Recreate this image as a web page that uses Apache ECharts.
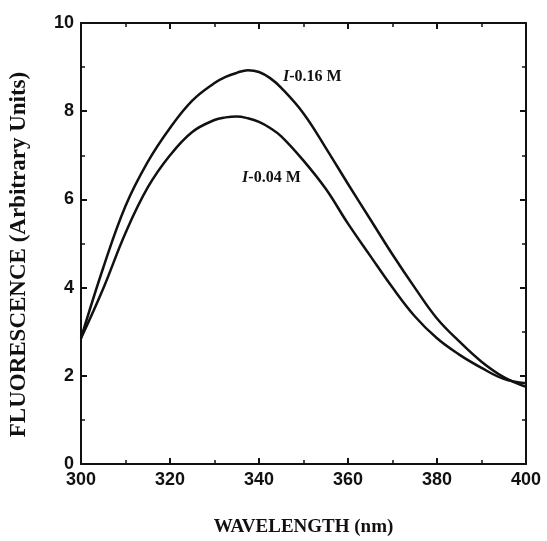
<!DOCTYPE html>
<html>
<head>
<meta charset="utf-8">
<script src="https://cdn.jsdelivr.net/npm/echarts@6/dist/echarts.min.js"></script>
<style>
  html, body { margin: 0; padding: 0; background: #fff; }
  #main { width: 547px; height: 541px; }
</style>
</head>
<body>
<div id="main"></div>
<script>
// wavelengths (nm) and fluorescence
var wavelengths = [300, 305, 310, 315, 320, 325, 330, 332.5, 335, 337.5, 340, 342.5, 345, 350, 355, 360, 365, 370, 375, 380, 385, 390, 395, 400];
var highIonic = [2.85, 4.45, 5.85, 6.85, 7.62, 8.24, 8.64, 8.78, 8.87, 8.93, 8.89, 8.75, 8.53, 7.95, 7.17, 6.35, 5.55, 4.75, 4.0, 3.3, 2.78, 2.32, 1.97, 1.75];
var lowIonic  = [2.85, 3.98, 5.24, 6.27, 7.0, 7.53, 7.8, 7.86, 7.88, 7.84, 7.76, 7.62, 7.43, 6.88, 6.24, 5.45, 4.72, 4.0, 3.35, 2.85, 2.48, 2.18, 1.93, 1.83];
var xTicks = [300, 320, 340, 360, 380, 400];
var yTicks = [0, 2, 4, 6, 8, 10];
var labelHigh = '{i|I}-0.16 M';
var labelLow = '{i|I}-0.04 M';

function pairs(xs, ys) {
    var out = [];
    for (var i = 0; i < xs.length; i++) out.push([xs[i], ys[i]]);
    return out;
}

var tickFont = { fontFamily: 'Liberation Sans', fontWeight: 'bold', fontSize: 18, color: '#111' };
var lineStyle = { color: '#111', width: 2 };
var titleFont = { fontFamily: 'Liberation Serif', fontWeight: 'bold', color: '#111' };

function frameAxis(pos, min, max, interval, showLabel) {
    return {
        type: 'value',
        position: pos,
        min: min,
        max: max,
        interval: interval,
        axisLine: { show: true, onZero: false, lineStyle: lineStyle },
        axisTick: { show: true, inside: true, length: 6, lineStyle: lineStyle },
        minorTick: { show: true, splitNumber: 2, length: 4, lineStyle: { color: '#111', width: 1.5 } },
        splitLine: { show: false },
        axisLabel: Object.assign({ show: showLabel, margin: 7 }, tickFont)
    };
}

var xBottom = frameAxis('bottom', xTicks[0], xTicks[xTicks.length - 1], 20, true);
xBottom.name = 'WAVELENGTH (nm)';
xBottom.nameLocation = 'middle';
xBottom.nameGap = 54;
xBottom.nameTextStyle = Object.assign({ fontSize: 19 }, titleFont);
var xTop = frameAxis('top', xTicks[0], xTicks[xTicks.length - 1], 20, false);

var yLeft = frameAxis('left', yTicks[0], yTicks[yTicks.length - 1], 2, true);
yLeft.name = 'FLUORESCENCE (Arbitrary Units)';
yLeft.nameLocation = 'middle';
yLeft.nameGap = 50;
yLeft.nameTextStyle = Object.assign({ fontSize: 23, padding: [0, 22, 0, 0] }, titleFont);
var yRight = frameAxis('right', yTicks[0], yTicks[yTicks.length - 1], 2, false);

function curve(data, label, at) {
    return {
        type: 'line',
        data: data,
        smooth: 0.4,
        symbol: 'none',
        xAxisIndex: 0,
        yAxisIndex: 0,
        lineStyle: { color: '#111', width: 2.5 },
        markPoint: {
            symbol: 'circle',
            symbolSize: 0,
            data: [{ coord: at }],
            label: {
                show: true,
                formatter: label,
                position: 'right',
                distance: 0,
                fontFamily: 'Liberation Serif',
                fontWeight: 'bold',
                fontSize: 16,
                color: '#111',
                rich: {
                    i: { fontFamily: 'Liberation Serif', fontStyle: 'italic', fontWeight: 'bold', fontSize: 16, color: '#111' }
                }
            }
        }
    };
}

var option = {
    animation: false,
    backgroundColor: '#fff',
    grid: { left: 81, right: 21, top: 23, bottom: 77, outerBoundsMode: 'none' },
    xAxis: [xBottom, xTop],
    yAxis: [yLeft, yRight],
    series: [
        curve(pairs(wavelengths, highIonic), labelHigh, [345.4, 8.78]),
        curve(pairs(wavelengths, lowIonic), labelLow, [336.2, 6.49])
    ]
};

var myChart = echarts.init(document.getElementById('main'));
myChart.setOption(option);
</script>
</body>
</html>
